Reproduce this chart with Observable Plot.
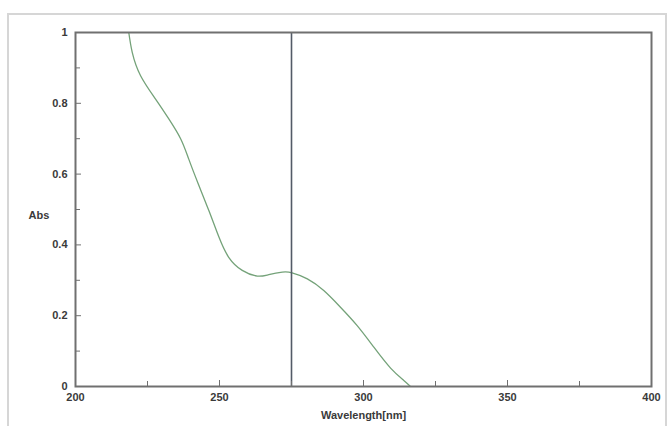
<!DOCTYPE html>
<html>
<head>
<meta charset="utf-8">
<script src="https://cdn.jsdelivr.net/npm/d3@7"></script>
<script src="https://cdn.jsdelivr.net/npm/@observablehq/plot@0.6"></script>
<style>
  html, body { margin: 0; padding: 0; background: #fff; }
  #wrap { position: relative; width: 672px; height: 426px; overflow: hidden; }
  #outer { position: absolute; left: 7px; top: 13px; width: 660px; height: 430px;
           border: 2px solid #d6d6d6; border-bottom: none; box-sizing: border-box; }
  #chart { position: absolute; left: 0; top: 0; }
</style>
</head>
<body>
<div id="wrap"><div id="outer"></div><div id="chart"></div></div>
<script>
// Spectrum data
const wavelength = [218.5, 219.7, 222.6, 227.8, 232.4, 236.5, 239.3, 242.5, 246.3, 249.8, 253.2, 257.9, 263.1, 267.1, 271.8, 275.2, 280.5, 286.2, 292.0, 297.8, 303.6, 309.4, 314.0, 316.3];
const absorbance = [1.0, 0.944, 0.878, 0.812, 0.756, 0.700, 0.643, 0.575, 0.497, 0.422, 0.365, 0.328, 0.312, 0.316, 0.323, 0.321, 0.304, 0.271, 0.224, 0.172, 0.111, 0.052, 0.017, 0.0];
const markerWavelength = [275];
const xMajorTicks = [200, 250, 300, 350, 400];
const xMinorTicks = [225, 275, 325, 375];
const yMajorTicks = [0, 0.2, 0.4, 0.6, 0.8, 1];
const yMinorTicks = [0.1, 0.3, 0.5, 0.7, 0.9];
const xLabel = "Wavelength[nm]";
const yLabel = "Abs";

const spectrum = wavelength.map((w, i) => ({w, a: absorbance[i]}));
const axisColor = "#707070";
const textColor = "#3a3a3a";

const chart = Plot.plot({
  width: 672,
  height: 426,
  marginLeft: 75,
  marginRight: 21,
  marginTop: 32,
  marginBottom: 40,
  style: {fontFamily: "'Liberation Sans', Arial, sans-serif", fontSize: "11px", fontWeight: "bold", background: "transparent"},
  x: {domain: [200, 400]},
  y: {domain: [0, 1]},
  marks: [
    Plot.line(spectrum, {x: "w", y: "a", stroke: "#74a279", strokeWidth: 1.3, curve: "natural", clip: true}),
    Plot.ruleX(markerWavelength, {stroke: "#535b67", strokeWidth: 1.6}),
    Plot.frame({stroke: axisColor, strokeWidth: 2}),
    Plot.axisX({ticks: xMajorTicks, tickSize: -6, tickPadding: 13, stroke: axisColor, fill: textColor,
      tickFormat: d => String(d), label: xLabel, labelAnchor: "center", labelOffset: 32, labelArrow: "none"}),
    Plot.axisX({ticks: xMinorTicks, tickSize: -5, tickFormat: () => "", stroke: axisColor, label: null}),
    Plot.axisY({ticks: yMajorTicks, tickSize: -6, tickPadding: 14, stroke: axisColor, fill: textColor,
      tickFormat: d => d === 0 ? "0" : d === 1 ? "1" : d.toFixed(1), label: null}),
    Plot.axisY({ticks: yMinorTicks, tickSize: -5, tickFormat: () => "", stroke: axisColor, label: null}),
    Plot.text([yLabel], {frameAnchor: "left", text: d => d, dx: -47, dy: 6, fill: textColor, fontWeight: "bold", fontSize: 11})
  ]
});
document.getElementById("chart").appendChild(chart);
</script>
</body>
</html>
